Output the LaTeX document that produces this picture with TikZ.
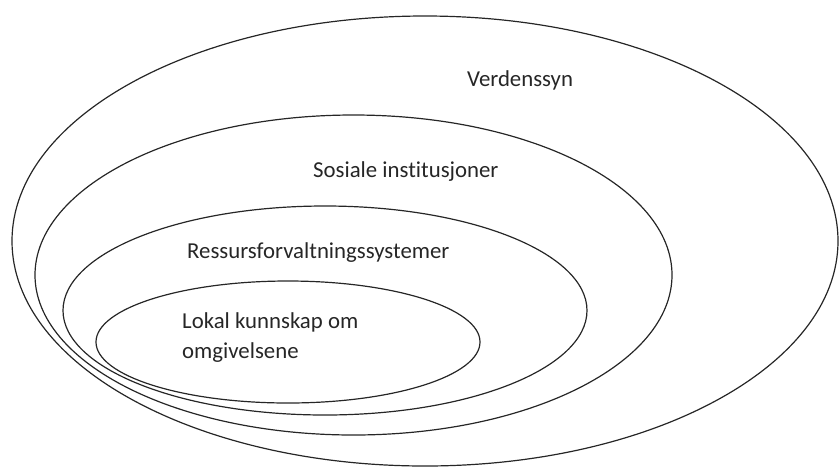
\documentclass[tikz,border=0pt]{standalone}
\usepackage{fontspec}
\setmainfont{Carlito}[Ligatures=NoCommon]
\usetikzlibrary{positioning}

\begin{document}
\begin{tikzpicture}[x=1pt, y=-1pt]
% -------------------------------------------------
\tikzset{
  ring/.style={draw=black!85, line width=1.2pt},
  lbl/.style={anchor=west, inner sep=0pt, align=left, text=black!85,
              font=\fontsize{22.8}{30}\selectfont}
}

    \useasboundingbox (0,0) rectangle (840,467);

    \draw[ring] (425,241) ellipse [x radius=413pt, y radius=225pt];     % outer: world view
    \draw[ring] (353.5,275) ellipse [x radius=318.5pt, y radius=160pt]; % social institutions
    \draw[ring] (325,310.5) ellipse [x radius=262pt, y radius=104.5pt]; % resource management
    \draw[ring] (288,342) ellipse [x radius=192pt, y radius=61pt];      % local knowledge

    \node [lbl] (vds) at (467,80)  {Verdenssyn};
    \node [lbl] (sos) at (313,172) {Sosiale institusjoner};
    \node [lbl] (res) at (187,253) {Ressursforvaltningssystemer};
    \node [lbl] (lok) at (182,338) {Lokal kunnskap om\\omgivelsene};

\end{tikzpicture}
\end{document}
